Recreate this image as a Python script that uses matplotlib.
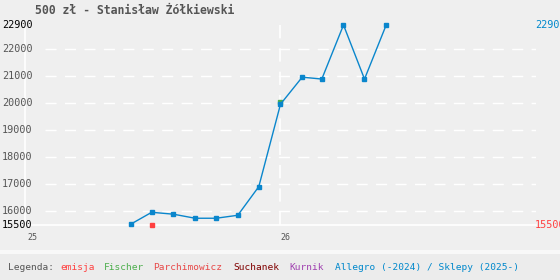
import matplotlib
matplotlib.use('Agg')
import matplotlib.pyplot as plt
import matplotlib.transforms as mtransforms
import pandas as pd

# dane
tytul = '500 zł - Stanisław Żółkiewski'
daty_allegro = pd.date_range('2025-06-01', periods=13, freq='MS')
ceny_allegro = [15530, 15970, 15900, 15750, 15750, 15860, 16920,
                19970, 20970, 20900, 22900, 20900, 22900]
daty_emisja = [pd.Timestamp('2025-07-01')]
ceny_emisja = [15500]
daty_fischer = [pd.Timestamp('2026-01-01')]
ceny_fischer = [20045]
y_min, y_max = 15500, 22900
y_ticks = [16000, 17000, 18000, 19000, 20000, 21000, 22000]
x_ticks = [pd.Timestamp('2025-01-01'), pd.Timestamp('2026-01-01')]
x_tick_labels = ['25', '26']
legenda = [('emisja', '#ff4040'), ('Fischer', '#4cae4c'), ('Parchimowicz', '#e84848'),
           ('Suchanek', '#800000'), ('Kurnik', '#a040b0'),
           ('Allegro (-2024) / Sklepy (2025-)', '#0088cc')]
legenda_x = [60, 104, 153, 233, 289, 335]

font = 'DejaVu Sans Mono'
bg = '#efefef'
blue = '#0a86cc'

fig = plt.figure(figsize=(5.6, 2.8), dpi=100, facecolor=bg)
ax = fig.add_axes([25/560, (280-225)/280, (536-25)/560, 200/280])
ax.set_facecolor(bg)
for s in ax.spines.values():
    s.set_visible(False)
ax.set_xticks([])
ax.set_yticks([])

ax.set_xlim(pd.Timestamp('2025-01-01'), pd.Timestamp('2027-01-01'))
ax.set_ylim(y_min, y_max)

# siatka
for v in y_ticks:
    ax.axhline(v, color='white', lw=1, dashes=(8, 6), xmin=0.04, xmax=1.0, zorder=1)
ax.axvline(x_ticks[1], color='white', lw=1.2, dashes=(8, 6), zorder=1)
ax.axhline(y_min, color='white', lw=1.2, zorder=1, clip_on=False)
ax.axvline(x_ticks[0], color='white', lw=1.2, zorder=1, clip_on=False)

# dane
ax.plot(daty_allegro, ceny_allegro, color=blue, lw=1.0, marker='s', ms=2.2,
        zorder=3, clip_on=False)
ax.plot(daty_fischer, ceny_fischer, ls='none', marker='s', ms=3.0, color='#4cae4c',
        zorder=2, clip_on=False)
ax.plot(daty_emisja, ceny_emisja, ls='none', marker='s', ms=3.4, color='#ff4040',
        zorder=4, clip_on=False)

# etykiety osi Y
tr = mtransforms.blended_transform_factory(fig.transFigure, ax.transData)
ax.text(2/560, y_max, '22900', transform=tr, ha='left', va='center',
        fontsize=7.3, family=font, color='black')
ax.text(2/560, y_min, '15500', transform=tr, ha='left', va='center',
        fontsize=7.3, family=font, color='black')
for v in y_ticks:
    ax.text(2/560, v, str(v), transform=tr, ha='left', va='center',
            fontsize=7.3, family=font, color='#555555')
ax.text(535/560, y_max, '22900', transform=tr, ha='left', va='center',
        fontsize=7.3, family=font, color='#0088cc')
ax.text(535/560, y_min, '15500', transform=tr, ha='left', va='center',
        fontsize=7.3, family=font, color='#ff4040')

# etykiety osi X
trx = mtransforms.blended_transform_factory(ax.transData, fig.transFigure)
for d, lab in zip(x_ticks, x_tick_labels):
    ax.text(d, (280-238)/280, lab, transform=trx, ha='left', va='center',
            fontsize=6, family=font, color='#555555')
ax.texts[-2].set_x(pd.Timestamp('2025-01-05'))

# tytul
fig.text(35/560, 1-11/280, tytul, ha='left', va='center', fontsize=8.3,
         family=font, weight='bold', color='#555555')

# pasek legendy
fig.patches.append(plt.Rectangle((0, 0), 1, (280-250)/280, transform=fig.transFigure,
                                 facecolor='#f8f8f8', edgecolor='none', zorder=0))
fig.patches.append(plt.Rectangle((0, 0), 1, (280-254)/280, transform=fig.transFigure,
                                 facecolor='#ececec', edgecolor='none', zorder=0))
fig.text(8/560, 1-267/280, 'Legenda:', ha='left', va='center', fontsize=6.8,
         family=font, color='#555555')
for (lab, col), x in zip(legenda, legenda_x):
    fig.text(x/560, 1-267/280, lab, ha='left', va='center', fontsize=6.8,
             family=font, color=col)

fig.savefig('out.png', dpi=100, facecolor=bg)
